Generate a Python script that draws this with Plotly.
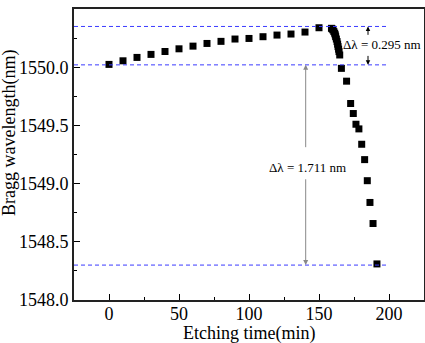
import plotly.graph_objects as go

# Data
etch_time = [0, 10, 20, 30, 40, 50, 60, 70, 80, 90, 100, 110, 120, 130, 140, 150,
             158.9, 159.5, 160.0, 160.6, 161.2, 161.6, 161.9, 162.4, 162.9, 163.3, 163.6, 164.0, 164.3, 164.8,
             166.0, 169.7, 172.6, 174.5, 176.4, 178.5, 180.5, 182.6, 184.5, 186.4, 188.6, 191.4]
bragg_wl = [1550.024, 1550.055, 1550.084, 1550.110, 1550.135, 1550.158, 1550.181, 1550.204,
            1550.222, 1550.242, 1550.247, 1550.262, 1550.276, 1550.285, 1550.302, 1550.339,
            1550.334, 1550.328, 1550.320, 1550.306, 1550.292, 1550.278, 1550.262, 1550.242, 1550.220,
            1550.198, 1550.177, 1550.155, 1550.134, 1550.105,
            1549.990, 1549.880, 1549.688, 1549.602, 1549.510, 1549.470, 1549.338, 1549.206,
            1549.025, 1548.838, 1548.657, 1548.310]

ref_levels = [1550.35, 1550.02, 1548.30]
x_ticks = [0, 50, 100, 150, 200]
y_ticks = [1548.0, 1548.5, 1549.0, 1549.5, 1550.0, 1550.5]
label_small = "\u0394\u03bb = 0.295 nm"
label_big = "\u0394\u03bb = 1.711 nm"

FONT = "Liberation Serif"

fig = go.Figure()
fig.add_trace(go.Scatter(
    x=etch_time, y=bragg_wl, mode="markers",
    marker=dict(symbol="square", size=7, color="black", line=dict(width=0)),
    showlegend=False, hoverinfo="skip"))

for lv in ref_levels:
    fig.add_shape(type="line", xref="x", yref="y", x0=-25, x1=200, y0=lv, y1=lv,
                  line=dict(color="#3b3bff", width=1, dash="4px,3px"))

# small delta arrows (at t=185)
fig.add_annotation(x=185, y=1550.35, ax=185, ay=1550.265, xref="x", yref="y", axref="x", ayref="y",
                   text="", showarrow=True, arrowhead=2, arrowsize=0.9, arrowwidth=1, arrowcolor="black")
fig.add_annotation(x=185, y=1550.02, ax=185, ay=1550.11, xref="x", yref="y", axref="x", ayref="y",
                   text="", showarrow=True, arrowhead=2, arrowsize=0.9, arrowwidth=1, arrowcolor="black")
fig.add_annotation(x=195.1, y=1550.196, xref="x", yref="y", text=label_small, showarrow=False,
                   font=dict(family=FONT, size=13, color="black"))

# big delta arrows (at t=140.5)
fig.add_annotation(x=140.5, y=1550.02, ax=140.5, ay=1549.30, xref="x", yref="y", axref="x", ayref="y",
                   text="", showarrow=True, arrowhead=2, arrowsize=1, arrowwidth=1, arrowcolor="#888888")
fig.add_annotation(x=140.5, y=1548.30, ax=140.5, ay=1549.05, xref="x", yref="y", axref="x", ayref="y",
                   text="", showarrow=True, arrowhead=2, arrowsize=1, arrowwidth=1, arrowcolor="#888888")
fig.add_annotation(x=141.7, y=1549.139, xref="x", yref="y", text=label_big, showarrow=False,
                   font=dict(family=FONT, size=13, color="black"))

# axis titles
fig.add_annotation(x=0, y=0.574, xref="paper", yref="paper", xshift=-64, xanchor="center", yanchor="middle",
                   text="Bragg wavelength(nm)", textangle=-90, showarrow=False,
                   font=dict(family=FONT, size=18, color="black"))
fig.add_annotation(x=0.5, y=0, xref="paper", yref="paper", yshift=-33, xanchor="center", yanchor="middle",
                   text="Etching time(min)", showarrow=False,
                   font=dict(family=FONT, size=18, color="black"))

fig.update_xaxes(range=[-25, 225], tickvals=x_ticks, ticktext=[str(v) for v in x_ticks],
                 ticks="inside", ticklen=6, tickwidth=1, tickcolor="black",
                 minor=dict(ticks="inside", ticklen=3, dtick=25, tick0=0, tickcolor="black"),
                 showline=True, linecolor="#222222", linewidth=2, mirror=True,
                 showgrid=False, zeroline=False, automargin=False, ticklabelstandoff=-4,
                 tickfont=dict(family=FONT, size=18, color="black"))
fig.update_yaxes(range=[1548.0, 1550.5], tickvals=y_ticks, ticktext=[f"{v:.1f}" for v in y_ticks],
                 ticks="inside", ticklen=6, tickwidth=1, tickcolor="black",
                 minor=dict(ticks="inside", ticklen=3, dtick=0.25, tick0=1548.0, tickcolor="black"),
                 showline=True, linecolor="#222222", linewidth=2, mirror=True,
                 showgrid=False, zeroline=False, automargin=False,
                 tickfont=dict(family=FONT, size=18, color="black"))

fig.update_layout(template="none", width=425, height=343, margin=dict(l=74, r=1, t=9, b=43),
                  showlegend=False)

fig.write_html("out.html", config={"displayModeBar": False},
               post_script="document.body.style.margin='0';")
